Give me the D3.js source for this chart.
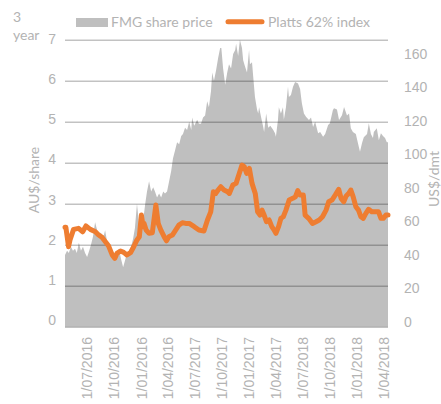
<!DOCTYPE html>
<html>
<head>
<meta charset="utf-8">
<script src="https://cdn.jsdelivr.net/npm/d3@7"></script>
<style>
  body { margin: 0; background: #fff; }
  svg { display: block; font-family: Lato, "Open Sans", sans-serif; }
  .lbl { fill: #b3b3b3; font-size: 14px; }
</style>
</head>
<body>
<svg width="441" height="404"></svg>
<script>
// FMG share price (AU$/share)
var fmgDates = ["2015-04-18","2015-04-25","2015-05-01","2015-05-08","2015-05-15","2015-05-22","2015-05-28","2015-06-04","2015-06-11","2015-06-18","2015-06-25",
  "2015-07-02","2015-07-09","2015-07-15","2015-07-22","2015-07-29","2015-08-05","2015-08-11","2015-08-18","2015-08-25","2015-09-01","2015-09-07","2015-09-14","2015-09-21","2015-09-28",
  "2015-10-05","2015-10-11","2015-10-18","2015-10-25","2015-11-01","2015-11-07","2015-11-14","2015-11-21","2015-11-28","2015-12-05","2015-12-11","2015-12-18","2015-12-25",
  "2016-01-01","2016-01-08","2016-01-15","2016-01-21","2016-01-28","2016-02-04","2016-02-11","2016-02-17","2016-02-24","2016-03-02","2016-03-09","2016-03-16","2016-03-22","2016-03-29",
  "2016-04-05","2016-04-12","2016-04-18","2016-04-25","2016-05-02","2016-05-09","2016-05-16","2016-05-22","2016-05-29","2016-06-05","2016-06-12","2016-06-19","2016-06-22","2016-06-29",
  "2016-07-09","2016-07-15","2016-07-22","2016-07-29","2016-08-05","2016-08-12","2016-08-18","2016-08-25","2016-08-29","2016-09-04","2016-09-11","2016-09-18","2016-09-25","2016-09-29",
  "2016-10-05","2016-10-12","2016-10-19","2016-10-25","2016-11-01","2016-11-08","2016-11-15","2016-11-18","2016-11-25","2016-12-01","2016-12-08","2016-12-12","2016-12-18","2016-12-25",
  "2017-01-01","2017-01-04","2017-01-11","2017-01-15","2017-01-21","2017-01-28","2017-02-01","2017-02-04","2017-02-11","2017-02-18","2017-02-21","2017-02-28","2017-03-07","2017-03-14","2017-03-24","2017-03-30",
  "2017-04-02","2017-04-09","2017-04-12","2017-04-19","2017-04-26","2017-04-29","2017-05-06","2017-05-13","2017-05-16","2017-05-23","2017-05-30","2017-06-06","2017-06-16","2017-06-23","2017-06-29",
  "2017-07-06","2017-07-13","2017-07-23","2017-07-30","2017-08-06","2017-08-13","2017-08-23","2017-08-30","2017-09-09","2017-09-16","2017-09-26",
  "2017-10-02","2017-10-12","2017-10-16","2017-10-26","2017-11-02","2017-11-12","2017-11-19","2017-11-29","2017-12-06","2017-12-12","2017-12-19","2017-12-29",
  "2018-01-05","2018-01-12","2018-01-19","2018-01-25","2018-02-05","2018-02-11","2018-02-18","2018-02-25","2018-02-28","2018-03-10","2018-03-17","2018-03-24","2018-03-31","2018-04-07","2018-04-13","2018-04-17"];
var fmgPrice = [1.75,1.85,1.8,1.95,1.85,1.9,1.8,2.05,1.85,1.95,1.8,
  1.7,1.85,2.0,2.2,2.55,2.35,2.25,2.3,2.15,2.35,2.1,1.95,1.85,1.7,
  1.65,1.75,1.9,1.65,1.45,1.6,1.8,1.85,1.95,2.15,2.4,3.0,2.5,
  2.4,2.6,3.0,3.3,3.55,3.3,3.4,3.3,3.15,3.25,3.15,3.3,3.25,3.3,
  3.55,3.8,4.1,4.3,4.5,4.45,4.65,4.7,4.85,4.8,5.0,4.8,5.1,4.9,
  5.05,4.95,4.95,5.1,5.15,5.5,5.35,5.75,6.2,6.0,6.25,6.55,6.8,6.8,
  6.3,5.9,6.2,6.4,6.3,6.65,6.75,6.9,6.6,7.0,6.8,6.5,6.35,6.2,
  6.75,6.4,6.45,6.1,5.6,5.3,5.2,5.35,5.1,4.87,4.75,5.2,4.85,4.9,4.8,4.72,
  4.63,5.05,5.35,5.2,5.35,5.05,5.35,5.85,5.6,5.65,5.85,5.97,5.93,5.8,5.45,
  5.2,5.12,5.04,5.1,4.87,5.0,4.72,4.75,4.63,4.7,4.92,
  4.96,5.28,5.33,5.3,5.04,5.16,5.36,5.15,5.2,4.84,4.75,4.7,
  4.48,4.27,4.48,4.62,4.7,4.96,4.7,4.6,4.75,4.84,4.55,4.72,4.65,4.6,4.5,4.5];

// Platts 62% index (US$/dmt)
var plattsDates = ["2015-04-18","2015-04-21","2015-04-30","2015-05-05","2015-05-17","2015-06-03","2015-06-17","2015-06-28","2015-07-13","2015-07-30","2015-08-10","2015-08-22",
  "2015-09-02","2015-09-13","2015-09-25","2015-10-04","2015-10-11","2015-10-23","2015-11-03","2015-11-14","2015-11-26","2015-12-07","2015-12-18","2015-12-26",
  "2016-01-02","2016-01-08","2016-01-11","2016-01-18","2016-01-28","2016-02-08","2016-02-20","2016-02-28","2016-03-08","2016-03-19","2016-03-27",
  "2016-04-04","2016-04-16","2016-04-27","2016-05-08","2016-05-20","2016-05-31","2016-06-12","2016-06-29","2016-07-15","2016-08-01","2016-08-13","2016-08-24",
  "2016-09-02","2016-09-10","2016-09-18","2016-09-27","2016-10-08","2016-10-20","2016-10-26","2016-11-07","2016-11-18","2016-11-29","2016-12-08","2016-12-16","2016-12-24",
  "2017-01-02","2017-01-11","2017-01-22","2017-01-30","2017-02-07","2017-02-14","2017-02-21","2017-03-01","2017-03-10","2017-03-19","2017-03-27",
  "2017-04-02","2017-04-11","2017-04-19","2017-04-27","2017-05-06","2017-05-17","2017-05-29","2017-06-07","2017-06-15","2017-06-23",
  "2017-07-04","2017-07-10","2017-07-22","2017-08-04","2017-08-16","2017-08-27","2017-09-07","2017-09-19","2017-09-28",
  "2017-10-09","2017-10-20","2017-11-01","2017-11-09","2017-11-18","2017-11-26","2017-12-05","2017-12-12","2017-12-20","2017-12-29",
  "2018-01-07","2018-01-15","2018-01-23","2018-02-01","2018-02-10","2018-02-21","2018-03-04","2018-03-16","2018-03-24","2018-04-01","2018-04-10","2018-04-17"];
var plattsIndex = [58.3,58.3,46.9,50.9,57.1,57.7,55.7,59.1,57.1,55.7,53.8,52.4,
  49.9,47.3,42.1,40.1,43.0,44.4,43.6,42.1,43.4,46.9,50.9,52.8,
  65.5,58.7,60.6,56.7,54.8,55.1,71.4,60.6,56.7,52.8,50.4,
  52.8,53.8,56.7,59.6,61.0,60.6,60.6,58.7,56.7,56.1,62.6,67.4,
  79.2,78.2,80.2,82.1,80.2,79.2,78.2,83.1,84.1,90.0,94.8,93.8,90.0,
  92.9,84.1,78.2,67.4,65.5,68.4,65.5,61.6,62.6,58.7,56.7,
  54.8,58.7,63.6,64.5,68.4,74.3,75.3,76.2,79.8,77.2,
  77.2,65.5,63.6,60.6,61.6,62.6,64.5,68.4,73.3,
  74.3,77.2,80.6,75.3,73.3,76.7,78.2,80.2,76.2,70.4,
  68.4,64.5,63.6,66.5,68.9,67.4,67.4,67.4,63.6,63.6,65.5,65.5];

// x tick positions and the labels as printed on the chart
var tickDates = ["2015-07-01","2015-10-01","2016-01-01","2016-04-01","2016-07-01","2016-10-01","2017-01-01","2017-04-01","2017-07-01","2017-10-01","2018-01-01","2018-04-01"];
var tickLabels = ["1/07/2016","1/10/2016","1/01/2016","1/04/2016","1/07/2017","1/10/2017","1/01/2017","1/04/2017","1/07/2018","1/10/2018","1/01/2018","1/04/2018"];
var leftTicks = [0,1,2,3,4,5,6,7];
var rightTicks = [0,20,40,60,80,100,120,140,160];

var svg = d3.select("svg");
var parse = d3.timeParse("%Y-%m-%d");

var fmg = fmgDates.map(function(d, i) { return {date: parse(d), v: fmgPrice[i]}; });
var platts = plattsDates.map(function(d, i) { return {date: parse(d), v: plattsIndex[i]}; });

var left = 65, right = 388;

var x = d3.scaleTime()
    .domain([parse("2015-04-18"), parse("2018-04-17")])
    .range([left, right]);
var yL = d3.scaleLinear().domain([0, 7]).range([326.7, 39.7]);
var yR = d3.scaleLinear().domain([0, 160]).range([326.7, 54]);
// tick labels sit slightly off the gridlines in the original
var yLabL = d3.scaleLinear().domain([0, 7]).range([320, 39]);
var yLabR = d3.scaleLinear().domain([0, 160]).range([322, 54]);

// area
svg.append("path")
    .datum(fmg)
    .attr("fill", "#bfbfbf")
    .attr("d", d3.area()
        .x(function(d) { return x(d.date); })
        .y0(yL(0))
        .y1(function(d) { return yL(d.v); }));

// gridlines on top of the area
var grid = svg.append("g")
    .attr("transform", "translate(" + left + ",0)")
    .call(d3.axisLeft(yL).tickValues(leftTicks).tickSize(-(right - left)).tickFormat(""));
grid.select(".domain").remove();
grid.selectAll("line").attr("stroke", "rgba(0,0,0,0.24)").attr("stroke-width", 1.4);

// orange line
svg.append("path")
    .datum(platts)
    .attr("fill", "none")
    .attr("stroke", "#ee7d31")
    .attr("stroke-width", 5)
    .attr("stroke-linejoin", "round")
    .attr("stroke-linecap", "round")
    .attr("d", d3.line()
        .x(function(d) { return x(d.date); })
        .y(function(d) { return yR(d.v); }));

// left axis labels
var ax = svg.append("g")
    .attr("transform", "translate(56,0)")
    .call(d3.axisLeft(yLabL).tickValues(leftTicks).tickSize(0).tickPadding(0).tickFormat(d3.format("d")));
ax.select(".domain").remove();
ax.selectAll("text").attr("class", "lbl").attr("fill", null).style("font-size", "14px");

// right axis labels
var axR = svg.append("g")
    .attr("transform", "translate(404,0)")
    .call(d3.axisRight(yLabR).tickValues(rightTicks).tickSize(0).tickPadding(0).tickFormat(d3.format("d")));
axR.select(".domain").remove();
axR.selectAll("text").attr("class", "lbl").attr("fill", null).style("font-size", "14px");

// bottom axis labels, rotated
var axB = svg.append("g")
    .attr("transform", "translate(0,337)")
    .call(d3.axisBottom(x).tickValues(tickDates.map(parse)).tickSize(0).tickPadding(0)
        .tickFormat(function(d, i) { return tickLabels[i]; }));
axB.select(".domain").remove();
axB.selectAll("text")
    .attr("class", "lbl").attr("fill", null)
    .style("font-size", "14px")
    .attr("text-anchor", "end")
    .attr("y", 0)
    .attr("dy", "0.35em")
    .attr("transform", "rotate(-90)");

// axis titles
svg.append("text").attr("class", "lbl")
    .attr("transform", "translate(34,180) rotate(-90)")
    .attr("text-anchor", "middle").attr("dy", "0.35em")
    .text("AU$/share");
svg.append("text").attr("class", "lbl")
    .attr("transform", "translate(434,179) rotate(-90)")
    .attr("text-anchor", "middle").attr("dy", "0.35em")
    .text("US$/dmt");

// "3 year" top left
svg.append("text").attr("class", "lbl").attr("x", 13).attr("y", 22).text("3");
svg.append("text").attr("class", "lbl").attr("x", 13).attr("y", 40).text("year");

// legend
svg.append("rect").attr("x", 76).attr("y", 18).attr("width", 32).attr("height", 9).attr("fill", "#bfbfbf");
svg.append("text").attr("class", "lbl").attr("x", 111).attr("y", 22).attr("dy", "0.35em").text("FMG share price");
svg.append("line").attr("x1", 228).attr("x2", 262).attr("y1", 21.7).attr("y2", 21.7)
    .attr("stroke", "#ee7d31").attr("stroke-width", 5).attr("stroke-linecap", "round");
svg.append("text").attr("class", "lbl").attr("x", 268).attr("y", 22).attr("dy", "0.35em").text("Platts 62% index");
</script>
</body>
</html>
